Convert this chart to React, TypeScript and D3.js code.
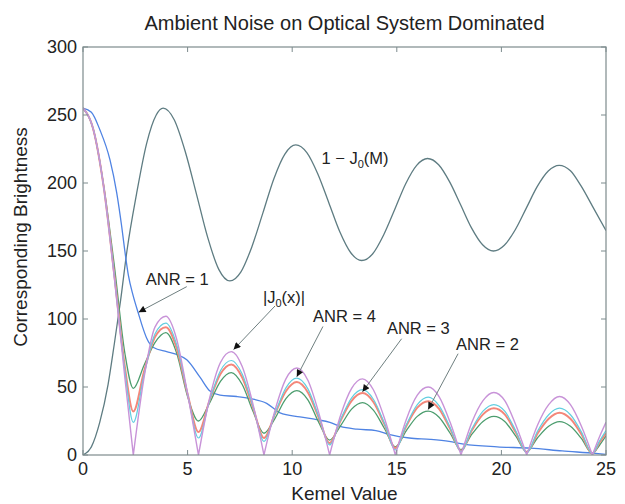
import React from 'react';
import * as d3 from 'd3';

// shared x grid for |J0(x)| and the ANR curves (zeros of J0 included)
const JX = [0, 0.5, 1.0, 1.5, 2.0, 2.405,
  2.92, 3.44, 3.96, 4.48, 5.0, 5.52,
  6.04, 6.57, 7.09, 7.61, 8.13, 8.65,
  9.18, 9.7, 10.22, 10.75, 11.27, 11.79,
  12.31, 12.84, 13.36, 13.88, 14.41, 14.93,
  15.45, 15.98, 16.5, 17.02, 17.55, 18.07,
  18.59, 19.12, 19.64, 20.16, 20.69, 21.21,
  21.73, 22.26, 22.78, 23.3, 23.83, 24.35,
  24.68, 25];

const ABS_J0 = [255, 239, 196, 130, 57, 0,
  57, 94, 102, 85, 45, 0,
  41, 68, 76, 65, 37, 0,
  33, 56, 64, 55, 31, 0,
  29, 49, 56, 48, 27, 0,
  26, 44, 50, 43, 24, 0,
  24, 40, 46, 40, 22, 0,
  22, 37, 43, 37, 21, 0,
  13, 24];

const ANR4 = [255, 239, 196, 131, 62, 24,
  59, 89, 97, 81, 45, 12.5,
  39.5, 62, 69.5, 59.5, 35.5, 10,
  30.7, 49.4, 56.5, 48.6, 28.4, 7.4,
  26, 42, 48, 41, 23.4, 3.7,
  22, 37, 42.5, 36.3, 20.3, 2.5,
  19.3, 32.2, 37.1, 32.2, 17.7, 1.5,
  17.6, 29.6, 34.4, 29.6, 16.8, 0.8,
  10, 18];

const ANR3 = [255, 239, 196, 132, 65, 32,
  61.5, 86.7, 94, 78.4, 44.8, 17,
  39.7, 59.6, 66.6, 57, 34.7, 12.5,
  30.3, 46.9, 53.6, 46, 27.4, 8.8,
  25.2, 39.8, 45.5, 39, 22.5, 5,
  21.2, 34.8, 39.6, 34, 19.2, 3,
  18.2, 29.9, 34.4, 29.9, 16.5, 2,
  15.8, 26.6, 31, 26.6, 15.1, 1,
  9, 16];

const ANR2 = [255, 239, 197, 139, 75, 49,
  66, 82.7, 90, 74.8, 43, 25,
  38, 54.2, 60.6, 51.8, 32, 16,
  27, 41.4, 47.3, 40.6, 24, 11,
  21.5, 33.7, 38.5, 33, 19.5, 6,
  17.8, 28.4, 32.3, 27.8, 16, 4,
  15.3, 24.7, 28.4, 24.7, 13.8, 2.5,
  12.7, 21.1, 24.5, 21.1, 12, 1,
  7, 14];

// ANR = 1
const ANR1_X = [0, 0.4, 0.81, 1.29, 1.61, 1.85, 2.0, 2.17, 2.4, 2.65, 2.85, 3.04, 3.37, 4.0, 4.48, 4.96,
  5.6, 6.07, 6.55, 7.35, 8.0, 8.78, 9.42, 10.37, 11.17, 11.8, 12.3, 13.1, 14.0, 14.67, 15.6, 16.6,
  17.5, 18.2, 19.8, 21.4, 22.9, 24.5, 25];
const ANR1_Y = [255, 252, 239, 217, 193, 168, 150, 132, 117, 104, 94, 86, 79, 76, 74, 70,
  57, 47, 44, 43, 41.5, 38, 31, 28, 26, 24, 21, 19, 18, 15, 12.5, 11.5,
  10, 8, 6, 5, 3, 1.2, 0.5];

// 1 - J0(M)
const ONE_MINUS_X = [0, 0.4, 0.8, 1.2, 1.5, 1.8, 2.1, 2.56, 3.04, 3.5, 3.83,
  4.36, 4.89, 5.43, 5.96, 6.49, 7.02,
  7.55, 8.07, 8.6, 9.12, 9.65, 10.17,
  10.7, 11.22, 11.75, 12.27, 12.8, 13.32,
  13.85, 14.37, 14.9, 15.42, 15.95, 16.47,
  17.0, 17.52, 18.05, 18.57, 19.1, 19.62,
  20.14, 20.67, 21.19, 21.71, 22.24, 22.76,
  23.3, 23.8, 24.35, 25];
const ONE_MINUS_Y = [0, 6, 24, 52, 82, 114, 150, 192, 229, 250, 255,
  246.5, 223, 191.5, 160, 136.5, 128,
  134.7, 153, 178, 203, 221.3, 228,
  222.3, 206.8, 185.5, 164.3, 148.7, 143,
  148, 161.8, 180.5, 199.3, 213, 218,
  213.4, 201, 184, 167, 154.6, 150,
  154.2, 165.8, 181.5, 197.3, 208.8, 213,
  209, 198, 183, 165];

const X_TICKS = [0, 5, 10, 15, 20, 25];
const Y_TICKS = [0, 50, 100, 150, 200, 250, 300];

const W = 625;
const H = 504;
const margin = { top: 47, right: 19, bottom: 49, left: 83 };
const FONT = '"Liberation Sans", Arial, Helvetica, sans-serif';
const AXIS_COLOR = '#7d8b8d';

const x = d3.scaleLinear().domain([0, 25]).range([margin.left, W - margin.right]);
const y = d3.scaleLinear().domain([0, 300]).range([H - margin.bottom, margin.top]);

const smooth = d3.line<[number, number]>()
  .x((d) => x(d[0]))
  .y((d) => y(d[1]))
  .curve(d3.curveMonotoneX);

const zip = (xs: number[], ys: number[]) => xs.map((v, i) => [v, ys[i]] as [number, number]);

// split at the zero crossings so the cusps stay sharp
function cuspPath(xs: number[], ys: number[]) {
  const pts = zip(xs, ys);
  let out = '';
  let seg: [number, number][] = [];
  pts.forEach((p, i) => {
    seg.push(p);
    if (p[1] === 0 && i > 0 && i < pts.length - 1) {
      out += smooth(seg);
      seg = [p];
    }
  });
  if (seg.length > 1) out += smooth(seg);
  return out;
}

const ANNOTATIONS = [
  { label: 'ANR = 1', at: [3.0, 125], tail: [4.96, 123.8], tip: [2.66, 105] },
  { label: 'ANR = 4', at: [11.0, 97.8], tail: [11.47, 94.5], tip: [10.22, 57.5] },
  { label: 'ANR = 3', at: [14.53, 89], tail: [15.23, 85.5], tip: [13.36, 46.5] },
  { label: 'ANR = 2', at: [17.83, 77.2], tail: [17.93, 74.5], tip: [16.5, 33.5] },
];

export default function App() {
  const plotL = x(0), plotR = x(25), plotT = y(300), plotB = y(0);
  const tick = 5;

  const arrow = (tail: number[], tip: number[], key: string) => (
    <line key={key} x1={x(tail[0])} y1={y(tail[1])} x2={x(tip[0])} y2={y(tip[1])}
      stroke="#6f7f80" strokeWidth={1} markerEnd="url(#head)" />
  );

  return (
    <svg width={W} height={H} style={{ position: 'absolute', left: 0, top: 0, background: '#fff' }}
      fontFamily={FONT}>
      <defs>
        <marker id="head" viewBox="0 0 10 10" refX="10" refY="5" markerWidth="9" markerHeight="7"
          markerUnits="userSpaceOnUse" orient="auto">
          <path d="M0,0 L10,5 L0,10 z" fill="#111" />
        </marker>
        <clipPath id="plot">
          <rect x={plotL} y={plotT - 2} width={plotR - plotL} height={plotB - plotT + 2} />
        </clipPath>
      </defs>

      <text x={(plotL + plotR) / 2} y={30} textAnchor="middle" fontSize={20} fill="#222">
        Ambient Noise on Optical System Dominated
      </text>

      <g clipPath="url(#plot)" fill="none">
        <path d={smooth(zip(ONE_MINUS_X, ONE_MINUS_Y)) || ''} stroke="#5e7c82" strokeWidth={1.3} />
        <path d={smooth(zip(ANR1_X, ANR1_Y)) || ''} stroke="#4f83e3" strokeWidth={1.3} />
        <path d={smooth(zip(JX, ANR2)) || ''} stroke="#4c9d6e" strokeWidth={1.3} />
        <path d={smooth(zip(JX, ANR3)) || ''} stroke="#f4877a" strokeWidth={2} />
        <path d={smooth(zip(JX, ANR4)) || ''} stroke="#62cfe0" strokeWidth={1.2} />
        <path d={cuspPath(JX, ABS_J0)} stroke="#c893d8" strokeWidth={1.4} />
      </g>

      {/* box and inward ticks */}
      <rect x={plotL} y={plotT} width={plotR - plotL} height={plotB - plotT}
        fill="none" stroke={AXIS_COLOR} strokeWidth={1.2} />
      {X_TICKS.map((t) => (
        <g key={`x${t}`}>
          <line x1={x(t)} x2={x(t)} y1={plotB} y2={plotB - tick} stroke={AXIS_COLOR} />
          <line x1={x(t)} x2={x(t)} y1={plotT} y2={plotT + tick} stroke={AXIS_COLOR} />
          <text x={x(t)} y={plotB + 20} textAnchor="middle" fontSize={18} fill="#222">{t}</text>
        </g>
      ))}
      {Y_TICKS.map((t) => (
        <g key={`y${t}`}>
          <line x1={plotL} x2={plotL + tick} y1={y(t)} y2={y(t)} stroke={AXIS_COLOR} />
          <line x1={plotR} x2={plotR - tick} y1={y(t)} y2={y(t)} stroke={AXIS_COLOR} />
          <text x={plotL - 6} y={y(t) + 6} textAnchor="end" fontSize={18} fill="#222">{t}</text>
        </g>
      ))}

      <text x={(plotL + plotR) / 2} y={500} textAnchor="middle" fontSize={19} fill="#222">Kemel Value</text>
      <text transform={`translate(27,${(plotT + plotB) / 2 - 14}) rotate(-90)`} textAnchor="middle"
        fontSize={19} fill="#222">Corresponding Brightness</text>

      {/* annotations */}
      <text x={x(11.4)} y={y(214)} fontSize={16.5} fill="#222">
        1 − J<tspan fontSize={11} dy={4}>0</tspan><tspan dy={-4}>(M)</tspan>
      </text>
      <text x={x(8.6)} y={y(111.8)} fontSize={16.5} fill="#222">
        |J<tspan fontSize={11} dy={4}>0</tspan><tspan dy={-4}>(x)|</tspan>
      </text>
      {arrow([9.18, 109.6], [7.2, 77.5], 'j0')}
      {ANNOTATIONS.map((a) => (
        <g key={a.label}>
          <text x={x(a.at[0])} y={y(a.at[1])} fontSize={16.5} fill="#222">{a.label}</text>
          {arrow(a.tail, a.tip, a.label)}
        </g>
      ))}
    </svg>
  );
}
